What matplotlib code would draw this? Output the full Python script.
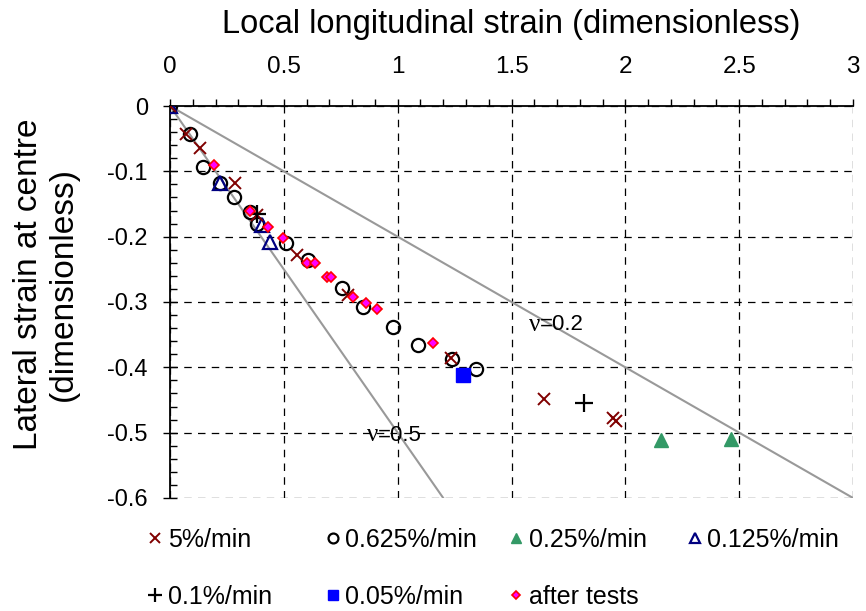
import matplotlib
matplotlib.use("Agg")
import matplotlib.pyplot as plt
from matplotlib.ticker import MultipleLocator, FormatStrFormatter
from matplotlib.lines import Line2D

plt.rcParams['font.family'] = ['Liberation Sans', 'DejaVu Sans']
plt.rcParams['axes.unicode_minus'] = False

# ---- data ----
x_5 = [0.0, 0.07, 0.13, 0.285, 0.38, 0.557, 0.78, 1.234, 1.643, 1.945, 1.96]
y_5 = [0.0, -0.043, -0.064, -0.118, -0.167, -0.228, -0.29, -0.385, -0.449, -0.478, -0.482]

x_0625 = [0.0, 0.088, 0.143, 0.22, 0.281, 0.351, 0.38, 0.509, 0.607, 0.754, 0.849, 0.981, 1.091, 1.237, 1.344]
y_0625 = [0.0, -0.043, -0.093, -0.118, -0.140, -0.163, -0.18, -0.210, -0.235, -0.278, -0.307, -0.338, -0.366, -0.388, -0.403]

x_025 = [2.155, 2.462]
y_025 = [-0.511, -0.509]

x_0125 = [0.0, 0.22, 0.403, 0.439]
y_0125 = [0.0, -0.118, -0.182, -0.208]

x_01 = [0.38, 1.82]
y_01 = [-0.165, -0.454]

x_005 = [1.285]
y_005 = [-0.412]

x_after = [0.195, 0.351, 0.432, 0.495, 0.60, 0.637, 0.688, 0.707, 0.805, 0.861, 0.908, 1.154]
y_after = [-0.090, -0.161, -0.185, -0.202, -0.240, -0.240, -0.262, -0.262, -0.293, -0.301, -0.31, -0.363]

nu_values = [0.2, 0.5]
x_max = 3.0
y_min = -0.6

labels = ['5%/min', '0.625%/min', '0.25%/min', '0.125%/min', '0.1%/min', '0.05%/min', 'after tests']

fig = plt.figure(figsize=(8.66, 6.11), dpi=100)
ax = fig.add_axes([0.1963, 0.185, 0.7887, 0.6415])

# reference lines
for nu in nu_values:
    xe = min(x_max, y_min / -nu)
    ax.plot([0, xe], [0, -nu * xe], color='#999999', lw=1.5, zorder=2)

ax.text(1.625, -0.335, 'ν', fontsize=18, fontfamily='Liberation Serif', ha='right', va='center')
ax.text(1.625, -0.335, '=0.2', fontsize=16, ha='left', va='center')
ax.text(0.913, -0.504, 'ν', fontsize=18, fontfamily='Liberation Serif', ha='right', va='center')
ax.text(0.913, -0.504, '=0.5', fontsize=16, ha='left', va='center')

s5, = ax.plot(x_5, y_5, ls='none', marker='x', ms=9, mew=1.4, color='#800000', zorder=5)
s0625, = ax.plot(x_0625, y_0625, ls='none', marker='o', ms=9.5, mew=1.6, mfc='none', mec='black', zorder=4)
s025, = ax.plot(x_025, y_025, ls='none', marker='^', ms=10, color='#339966', zorder=4)
s0125, = ax.plot(x_0125, y_0125, ls='none', marker='^', ms=9.5, mew=1.6, mfc='none', mec='#000080', zorder=4)
s01, = ax.plot(x_01, y_01, ls='none', marker='+', ms=13, mew=1.6, color='black', zorder=5)
s005, = ax.plot(x_005, y_005, ls='none', marker='s', ms=9.5, color='#0000FF', zorder=4)
safter, = ax.plot(x_after, y_after, ls='none', marker='D', ms=5.5, mew=1.2, mfc='#FF00FF', mec='#FF0000', zorder=6)

ax.set_xlim(0, x_max)
ax.set_ylim(y_min, 0)
ax.xaxis.tick_top()
ax.xaxis.set_label_position('top')
ax.xaxis.set_major_locator(MultipleLocator(0.5))
ax.xaxis.set_minor_locator(MultipleLocator(0.1))
ax.yaxis.set_major_locator(MultipleLocator(0.1))
ax.yaxis.set_minor_locator(MultipleLocator(0.02))
ax.xaxis.set_major_formatter(FormatStrFormatter('%g'))
ax.yaxis.set_major_formatter(FormatStrFormatter('%g'))

ax.tick_params(axis='x', which='major', direction='out', length=5, width=1, labelsize=17.5, pad=15)
ax.tick_params(axis='x', which='minor', direction='out', length=5, width=1)
ax.tick_params(axis='y', which='major', direction='inout', length=10, width=1, labelsize=17, pad=11)
ax.tick_params(axis='y', which='minor', direction='in', length=5, width=1)

ax.spines['right'].set_visible(False)
ax.spines['bottom'].set_visible(False)
ax.spines['top'].set_linewidth(1.3)
ax.spines['left'].set_linewidth(1.3)

ax.grid(True, which='major', color='black', ls=(0, (6, 5)), lw=0.9)
ax.set_axisbelow(True)

ax.set_xlabel('Local longitudinal strain (dimensionless)', fontsize=23.5, labelpad=17)
ax.set_ylabel('Lateral strain at centre\n(dimensionless)', fontsize=24, labelpad=20, linespacing=1.2)
ax.yaxis.label.set_y(0.545)

# legend entries placed individually
handles = [s5, s0625, s025, s0125, s01, s005, safter]
positions = [(0.172, 0.116), (0.377, 0.116), (0.589, 0.116), (0.795, 0.116),
             (0.172, 0.023), (0.377, 0.023), (0.589, 0.023)]
for h, lab, pos in zip(handles, labels, positions):
    proxy = Line2D([], [], ls='none', marker=h.get_marker(), ms=h.get_markersize() * 0.75,
                   mew=h.get_markeredgewidth(), mfc=h.get_markerfacecolor(),
                   mec=h.get_markeredgecolor())
    fig.legend([proxy], [lab], loc='center left', bbox_to_anchor=pos, frameon=False,
               fontsize=18, handlelength=0.5, handletextpad=0.25, borderpad=0, borderaxespad=0)

fig.savefig('out.png', dpi=100)
